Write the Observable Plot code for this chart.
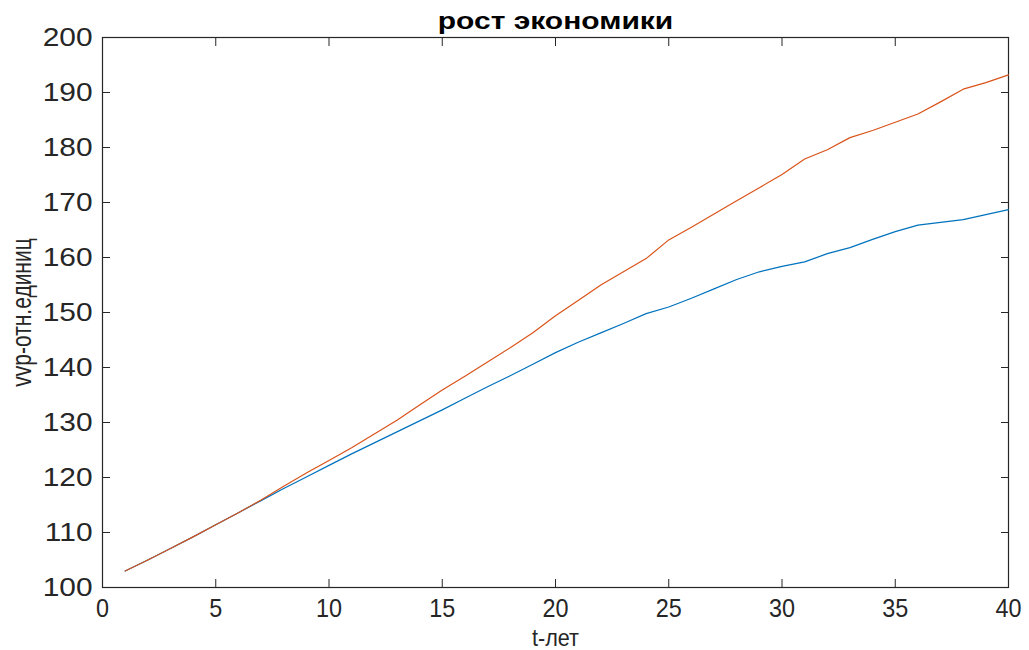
<!DOCTYPE html>
<html><head><meta charset="utf-8">
<script src="https://cdn.jsdelivr.net/npm/d3@7"></script>
<script src="https://cdn.jsdelivr.net/npm/@observablehq/plot@0.6"></script>
<style>body{margin:0;background:#fff;} #chart svg{font-family:"Liberation Sans",Arial,sans-serif;}</style>
</head><body><div id="chart"></div>
<script>
const years = [1,2,3,4,5,6,7,8,9,10,11,12,13,14,15,16,17,18,19,20,21,22,23,24,25,26,27,28,29,30,31,32,33,34,35,36,37,38,39,40];
const seriesBlue = [103.0,105.0,107.1,109.2,111.4,113.6,115.8,118.0,120.1,122.2,124.3,126.3,128.3,130.3,132.3,134.4,136.5,138.5,140.6,142.7,144.6,146.3,148.0,149.8,151.0,152.6,154.3,156.0,157.4,158.4,159.2,160.7,161.8,163.3,164.7,165.9,166.4,166.9,167.8,168.7];
const seriesOrange = [103.0,105.0,107.1,109.2,111.4,113.6,115.9,118.4,120.8,123.1,125.4,127.9,130.4,133.2,135.9,138.4,141.0,143.6,146.3,149.4,152.2,155.0,157.4,159.8,163.2,165.5,167.9,170.3,172.7,175.1,177.9,179.6,181.8,183.1,184.6,186.1,188.3,190.6,191.8,193.2];
const seriesNames = ["s1","s2"];
const seriesColors = ["#0072BD","#D95319"];
const xTicks = [0,5,10,15,20,25,30,35,40];
const yTicks = [100,110,120,130,140,150,160,170,180,190,200];
const titleText = "рост экономики";
const xLabel = "t-лет";
const yLabel = "vvp-отн.единиц";

const rows = [
  ...years.map((t,i)=>({t, v: seriesBlue[i], s: seriesNames[0]})),
  ...years.map((t,i)=>({t, v: seriesOrange[i], s: seriesNames[1]}))
];
const axisColor = "#262626";
const regular = '"Liberation Sans",Arial,sans-serif';
const chart = Plot.plot({
  width: 1029, height: 650,
  marginLeft: 102, marginRight: 21, marginTop: 37, marginBottom: 63,
  style: {fontFamily: regular, fontSize: "22px", color: axisColor, background: "#fff"},
  x: {domain: [0, 40]},
  y: {domain: [100, 200]},
  color: {domain: seriesNames, range: seriesColors},
  marks: [
    Plot.frame({stroke: axisColor, strokeWidth: 1.2}),
    Plot.axisX({anchor: "bottom", ticks: xTicks, tickSize: -8, tickPadding: 19, label: null, fontSize: 26, stroke: axisColor}),
    Plot.axisX({anchor: "top", ticks: xTicks, tickSize: -8, tickFormat: () => "", label: null, stroke: axisColor}),
    Plot.axisY({anchor: "left", ticks: yTicks, tickSize: -8, tickPadding: 18, label: null, fontSize: 26, stroke: axisColor}),
    Plot.axisY({anchor: "right", ticks: yTicks, tickSize: -8, tickFormat: () => "", label: null, stroke: axisColor}),
    Plot.line(rows, {x: "t", y: "v", z: "s", stroke: "s", strokeWidth: 1.2}),
    Plot.text([titleText], {frameAnchor: "top", lineAnchor: "middle", dy: -16, fontWeight: "bold", fontSize: 24, fill: "#000"}),
    Plot.text([xLabel], {frameAnchor: "bottom", lineAnchor: "middle", dy: 51, fontSize: 24, fill: axisColor}),
    Plot.text([yLabel], {frameAnchor: "left", textAnchor: "middle", lineAnchor: "middle", dx: -80, rotate: -90, fontSize: 28, fill: axisColor})
  ]
});
function stretch(sel, sx) {
  sel.each(function() {
    const tr = this.getAttribute("transform");
    if (tr) this.setAttribute("transform", tr + ` scale(${sx},1)`);
  });
}
const texts = d3.select(chart).selectAll("text");
stretch(texts.filter(function(){ return this.textContent === titleText; }), 1.25);
stretch(texts.filter(function(){ return this.textContent === yLabel; }), 0.75);
stretch(texts.filter(function(){ return this.textContent === xLabel; }), 0.9);
stretch(texts.filter(function(){ return xTicks.map(String).includes(this.textContent) && this.getAttribute("transform") && !yTicks.map(String).includes(this.textContent); }), 0.9);
stretch(texts.filter(function(){ return yTicks.map(String).includes(this.textContent); }), 1.15);
document.getElementById("chart").appendChild(chart);
</script>
</body></html>
